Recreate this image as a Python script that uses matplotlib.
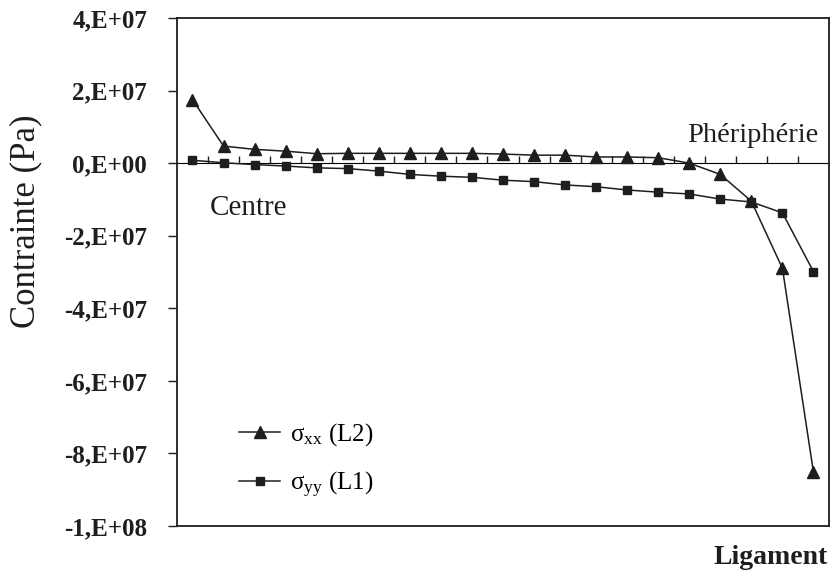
import matplotlib

matplotlib.use("Agg")

import matplotlib.pyplot as plt
from matplotlib.ticker import FuncFormatter, FixedLocator
import numpy as np


# points along the ligament, centre -> periphery
POINTS = list(range(1, 22))

SIGMA_XX = [1.75e7, 0.47e7, 0.38e7, 0.33e7, 0.26e7, 0.27e7, 0.27e7,
            0.27e7, 0.27e7, 0.27e7, 0.25e7, 0.22e7, 0.22e7, 0.17e7,
            0.17e7, 0.15e7, 0.00e7, -0.31e7, -1.05e7, -2.90e7, -8.52e7]
SIGMA_YY = [0.08e7, 0.01e7, -0.04e7, -0.08e7, -0.13e7, -0.15e7, -0.22e7,
            -0.31e7, -0.36e7, -0.39e7, -0.47e7, -0.51e7, -0.60e7, -0.65e7,
            -0.74e7, -0.80e7, -0.85e7, -0.99e7, -1.07e7, -1.37e7, -2.99e7]

Y_TICKS = [-1e8, -8e7, -6e7, -4e7, -2e7, 0, 2e7, 4e7]

SERIF = "Liberation Serif"
INK = "#1e1e1e"

plt.rcParams["font.family"] = [SERIF, "DejaVu Serif"]
plt.rcParams["mathtext.fontset"] = "custom"
plt.rcParams["mathtext.rm"] = SERIF
plt.rcParams["mathtext.it"] = SERIF + ":italic"


def excel_sci(value, pos=None):
    # Excel "0,E+00" style with a french decimal comma
    if value == 0:
        return "0,E+00"
    exp = int(np.floor(np.log10(abs(value)) + 1e-9))
    mant = int(round(value / 10 ** exp))
    return f"{mant},E{exp:+03d}"


fig = plt.figure(figsize=(8.32, 5.77), dpi=100)
ax = fig.add_axes([0.2127, 0.0884, 0.7837, 0.8804])

ax.plot(POINTS, SIGMA_XX, color=INK, lw=1.1, marker="^", ms=8.5,
        label="σ$_{\\mathrm{xx}}$ (L2)")
ax.plot(POINTS, SIGMA_YY, color=INK, lw=1.1, marker="s", ms=6,
        label="σ$_{\\mathrm{yy}}$ (L1)")

ax.set_xlim(0.5, len(POINTS) + 0.5)
ax.set_ylim(Y_TICKS[0], Y_TICKS[-1])

ax.set_xticks([])
ax.yaxis.set_major_locator(FixedLocator(Y_TICKS))
ax.yaxis.set_major_formatter(FuncFormatter(excel_sci))
ax.tick_params(axis="y", direction="out", length=6.5, width=1.0, color=INK,
               pad=15, labelsize=18, labelcolor=INK)
for lab in ax.get_yticklabels():
    lab.set_fontweight("bold")

for spine in ax.spines.values():
    spine.set_color(INK)
    spine.set_linewidth(1.3)

# zero line carrying the category ticks
y0, y1 = ax.get_ylim()
zero_frac = (0 - y0) / (y1 - y0)
zaxis = ax.secondary_xaxis(zero_frac)
zaxis.set_xticks(np.arange(1.5, len(POINTS) + 0.5, 1.0))
zaxis.set_xticklabels([])
zaxis.tick_params(direction="out", length=5, width=1.0, color=INK)
zaxis.spines["bottom"].set_color(INK)
zaxis.spines["bottom"].set_linewidth(1.3)

ax.set_ylabel("Contrainte (Pa)", fontsize=25, color=INK)
ax.yaxis.set_label_coords(-0.207, 0.60)

ax.text(0.05, 0.612, "Centre", transform=ax.transAxes, fontsize=21,
        color=INK, ha="left", va="baseline")
ax.text(0.984, 0.755, "Phériphérie", transform=ax.transAxes, fontsize=20.5,
        color=INK, ha="right", va="baseline")
fig.text(0.995, 0.022, "Ligament", fontsize=20, fontweight="bold",
         color=INK, ha="right", va="baseline")

ax.legend(loc="center left", bbox_to_anchor=(0.08, 0.129), frameon=False,
          fontsize=18, handlelength=1.65, handletextpad=0.4,
          labelspacing=0.85, borderaxespad=0)

fig.savefig("out.png", dpi=100)
